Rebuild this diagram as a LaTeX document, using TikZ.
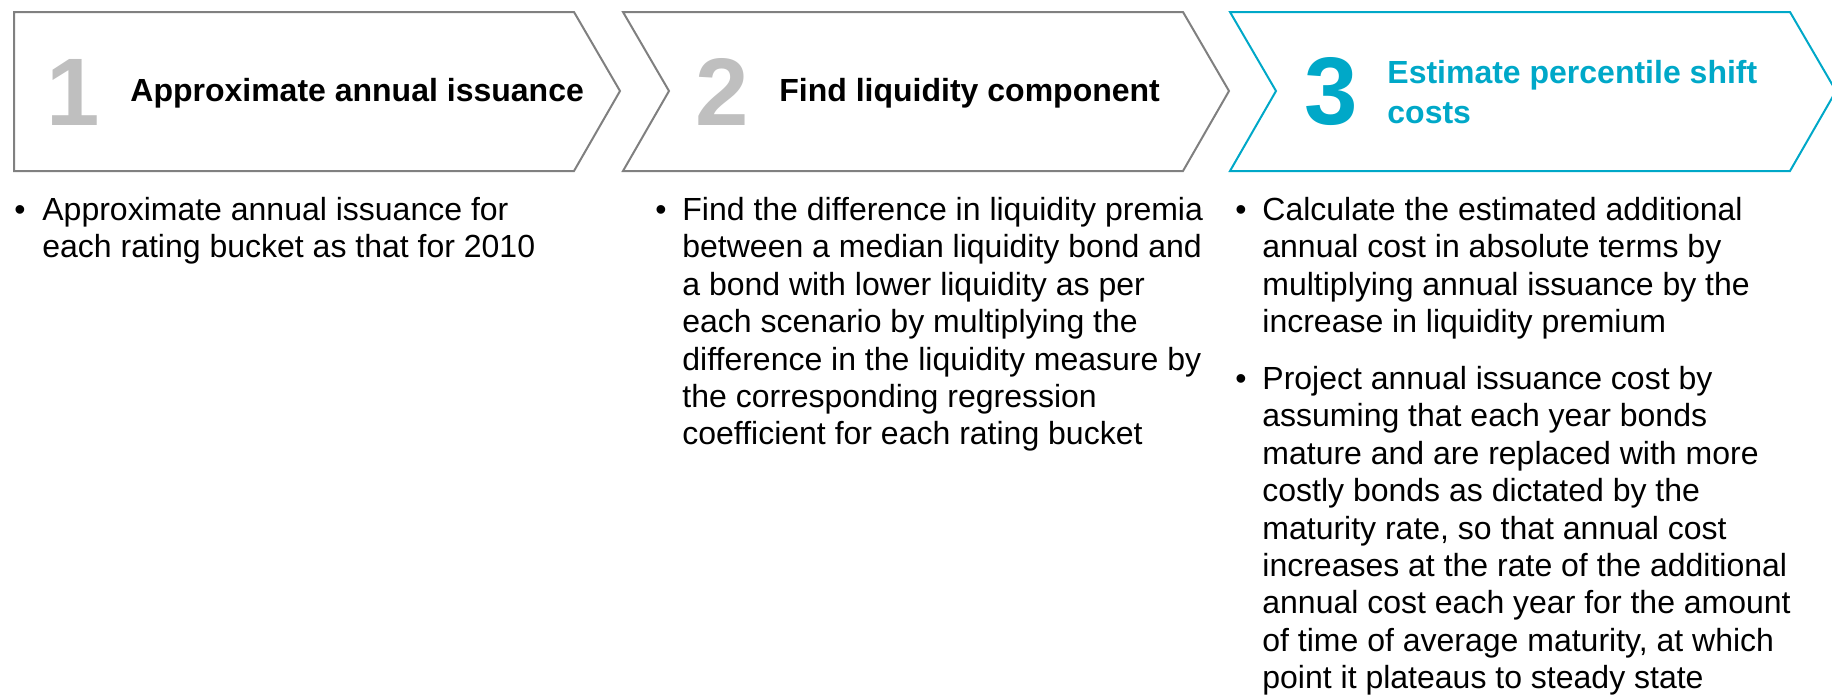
\documentclass[tikz,border=0pt]{standalone}
\usepackage{fontspec}
\setmainfont{Liberation Sans}
\definecolor{linegrey}{RGB}{128,128,128}
\definecolor{numgrey}{RGB}{191,191,191}
\definecolor{accent}{RGB}{0,168,200}
% fixed height for the first line of a text block
\newcommand{\firstline}{\rule{0pt}{12pt}}
\begin{document}
\begin{tikzpicture}[x=0.5pt,y=-0.5pt,
    chevron/.style={line width=1pt,line join=miter},
    stepnum/.style={inner sep=0pt,font=\fontsize{48}{48}\selectfont\bfseries},
    steptitle/.style={anchor=north west,inner sep=0pt,align=left,font=\fontsize{16}{20}\selectfont\bfseries},
    bodytext/.style={anchor=north west,inner sep=0pt,align=left,font=\fontsize{16}{18.7}\selectfont},
    bulletmark/.style={anchor=base west,inner sep=0pt,font=\fontsize{16}{18.7}\selectfont}
  ]
  \useasboundingbox (0,0) rectangle (1832,696);

  % the three chevrons
  \draw[chevron,linegrey] (14,12) -- (574,12) -- (620,91) -- (574,171) -- (14,171) -- cycle;
  \draw[chevron,linegrey] (623,12) -- (1183,12) -- (1229,91) -- (1183,171) -- (623,171) -- (669,91) -- cycle;
  \draw[chevron,accent] (1230,12) -- (1790,12) -- (1836,91) -- (1790,171) -- (1230,171) -- (1276,91) -- cycle;

  % numbers and titles
  \node[stepnum,numgrey] (n1) at (73,92) {1};
  \node[stepnum,numgrey] (n2) at (722,92) {2};
  \node[stepnum,accent] (n3) at (1331,92) {3};
  \node[steptitle] (h1) at (130,77) {\firstline Approximate annual issuance};
  \node[steptitle] (h2) at (779,77) {\firstline Find liquidity component};
  \node[steptitle,accent] (h3) at (1387,59) {\firstline Estimate percentile shift\\costs};

  % bullet points under each step
  \foreach \x/\name in {14/b1,655/b2,1235/b3}
    \node[bulletmark] (\name) at (\x,220) {\textbullet};
  \node[bulletmark] (b4) at (1235,389) {\textbullet};

  \node[bodytext] (t1) at (42,196) {\firstline Approximate annual issuance for\\each rating bucket as that for 2010};
  \node[bodytext] (t2) at (682,196) {\firstline Find the difference in liquidity premia\\between a median liquidity bond and\\a bond with lower liquidity as per\\each scenario by multiplying the\\difference in the liquidity measure by\\the corresponding regression\\coefficient for each rating bucket};
  \node[bodytext] (t3) at (1262,196) {\firstline Calculate the estimated additional\\annual cost in absolute terms by\\multiplying annual issuance by the\\increase in liquidity premium};
  \node[bodytext] (t4) at (1262,365) {\firstline Project annual issuance cost by\\assuming that each year bonds\\mature and are replaced with more\\costly bonds as dictated by the\\maturity rate, so that annual cost\\increases at the rate of the additional\\annual cost each year for the amount\\of time of average maturity, at which\\point it plateaus to steady state};
\end{tikzpicture}
\end{document}
